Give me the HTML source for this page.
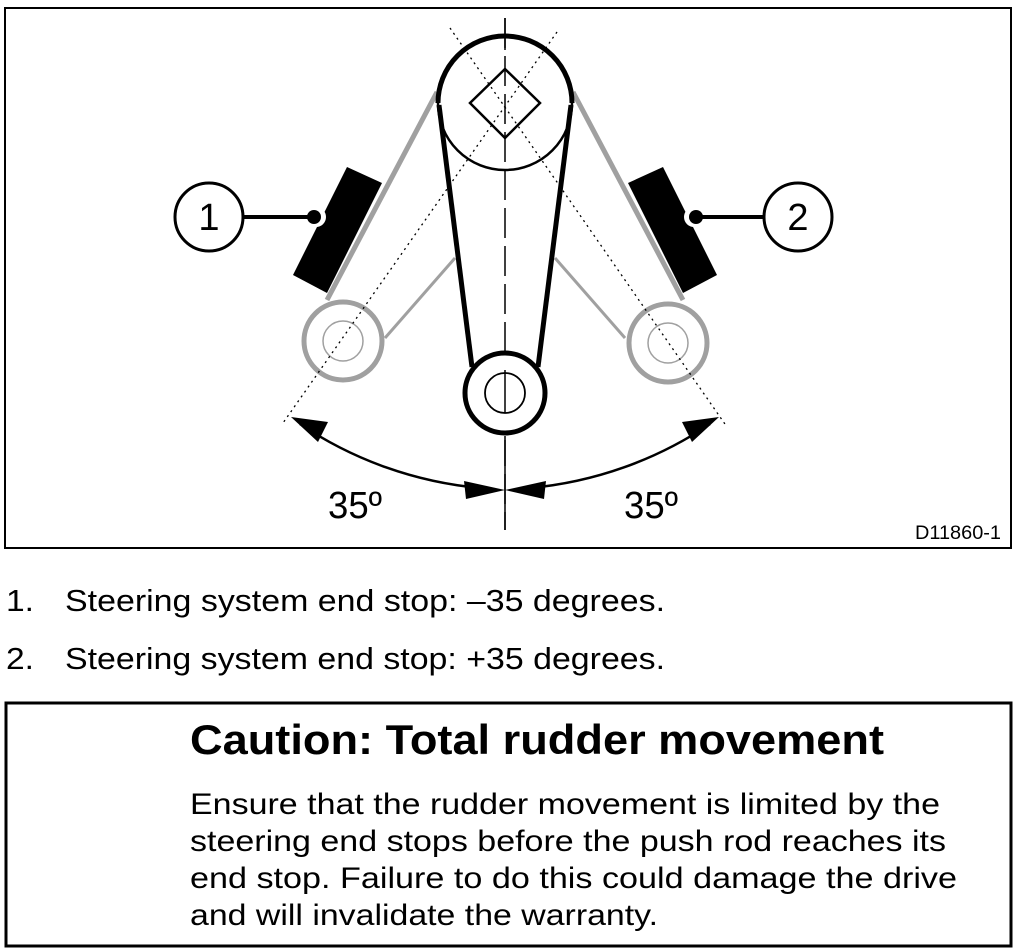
<!DOCTYPE html>
<html><head><meta charset="utf-8"><style>
html,body{margin:0;padding:0;background:#fff;}
svg{display:block;}
text{font-family:"Liberation Sans",Arial,sans-serif;fill:#000;}
</style></head><body>
<svg width="1017" height="951" viewBox="0 0 1017 951" xmlns="http://www.w3.org/2000/svg">
<rect x="5" y="8" width="1006" height="540" fill="none" stroke="#000" stroke-width="2"/>
<!-- gray arms -->
<line x1="437" y1="92" x2="327" y2="300" stroke="#a0a0a0" stroke-width="5"/>
<line x1="573" y1="92" x2="683" y2="300" stroke="#a0a0a0" stroke-width="5"/>
<line x1="455" y1="258" x2="385" y2="338" stroke="#a0a0a0" stroke-width="3"/>
<line x1="555" y1="258" x2="625" y2="338" stroke="#a0a0a0" stroke-width="3"/>
<circle cx="343" cy="341" r="39" fill="none" stroke="#a0a0a0" stroke-width="5"/>
<circle cx="343" cy="341" r="20" fill="none" stroke="#a0a0a0" stroke-width="1.5"/>
<circle cx="668" cy="343" r="39" fill="none" stroke="#a0a0a0" stroke-width="5"/>
<circle cx="668" cy="343" r="20" fill="none" stroke="#a0a0a0" stroke-width="1.5"/>
<!-- blocks -->
<polygon points="347,167 382,183 327,293 293,275" fill="#000"/>
<circle cx="316" cy="217" r="10" fill="#fff"/>
<polygon points="663,167 628,183 683,293 717,275" fill="#000"/>
<circle cx="694" cy="217" r="10" fill="#fff"/>
<!-- leaders -->
<circle cx="209" cy="217" r="34" fill="#fff" stroke="#000" stroke-width="3"/>
<text x="209" y="230" font-size="38" text-anchor="middle">1</text>
<line x1="243" y1="217" x2="313" y2="217" stroke="#000" stroke-width="4"/>
<circle cx="314" cy="217" r="7" fill="#000"/>
<circle cx="798" cy="217" r="34" fill="#fff" stroke="#000" stroke-width="3"/>
<text x="798" y="230" font-size="38" text-anchor="middle">2</text>
<line x1="697" y1="217" x2="764" y2="217" stroke="#000" stroke-width="4"/>
<circle cx="696" cy="217" r="7" fill="#000"/>
<!-- main arm -->
<polygon points="438,105 472,367 538,367 572,105" fill="#fff" stroke="none"/>
<circle cx="505" cy="103" r="67" fill="#fff" stroke="#000" stroke-width="2.5"/>
<!-- dotted lines on top -->
<line x1="557" y1="32" x2="283" y2="423" stroke="#000" stroke-width="1.3" stroke-dasharray="2,4"/>
<line x1="450" y1="28" x2="727" y2="427" stroke="#000" stroke-width="1.3" stroke-dasharray="2,4"/>
<path d="M438,103 A67,67 0 0 1 572,103" fill="none" stroke="#000" stroke-width="5"/>
<line x1="439" y1="105" x2="472" y2="367" stroke="#000" stroke-width="5"/>
<line x1="571" y1="105" x2="538" y2="367" stroke="#000" stroke-width="5"/>
<line x1="505" y1="18" x2="505" y2="530" stroke="#000" stroke-width="1.5" stroke-dasharray="30,8"/>
<line x1="505" y1="18" x2="505" y2="50" stroke="#000" stroke-width="1.5"/>
<line x1="505" y1="440" x2="505" y2="530" stroke="#000" stroke-width="1.5"/>
<polygon points="505,69 540,103 505,138 470,103" fill="none" stroke="#000" stroke-width="2.5"/>
<circle cx="505" cy="393" r="40" fill="#fff" stroke="#000" stroke-width="5"/>
<circle cx="505" cy="393" r="20" fill="none" stroke="#000" stroke-width="1.8"/>
<line x1="505" y1="370" x2="505" y2="413" stroke="#000" stroke-width="1.5"/>
<!-- arcs -->
<path d="M300,424 A385,385 0 0 0 480,488" fill="none" stroke="#000" stroke-width="2.5"/>
<path d="M710,424 A385,385 0 0 1 530,488" fill="none" stroke="#000" stroke-width="2.5"/>
<polygon points="291,417 328,422 318,442" fill="#000"/>
<polygon points="719,417 682,422 692,442" fill="#000"/>
<polygon points="505,490 464,481 466,499" fill="#000"/>
<polygon points="505,490 546,481 544,499" fill="#000"/>
<text x="328" y="518" font-size="38" textLength="54" lengthAdjust="spacingAndGlyphs">35º</text>
<text x="624" y="518" font-size="38" textLength="54" lengthAdjust="spacingAndGlyphs">35º</text>
<text x="915" y="539" font-size="19" textLength="86" lengthAdjust="spacingAndGlyphs">D11860-1</text>
<!-- list -->
<text x="6" y="611" font-size="31" textLength="28" lengthAdjust="spacingAndGlyphs">1.</text>
<text x="65" y="611" font-size="31" textLength="600" lengthAdjust="spacingAndGlyphs">Steering system end stop: –35 degrees.</text>
<text x="6" y="669" font-size="31" textLength="28" lengthAdjust="spacingAndGlyphs">2.</text>
<text x="65" y="669" font-size="31" textLength="600" lengthAdjust="spacingAndGlyphs">Steering system end stop: +35 degrees.</text>
<!-- caution -->
<rect x="6" y="703" width="1005" height="243" fill="none" stroke="#000" stroke-width="3"/>
<text x="190" y="754" font-size="42" font-weight="bold" textLength="694" lengthAdjust="spacingAndGlyphs">Caution: Total rudder movement</text>
<text x="190" y="814" font-size="30" textLength="750" lengthAdjust="spacingAndGlyphs">Ensure that the rudder movement is limited by the</text>
<text x="190" y="851" font-size="30" textLength="756" lengthAdjust="spacingAndGlyphs">steering end stops before the push rod reaches its</text>
<text x="190" y="888" font-size="30" textLength="767" lengthAdjust="spacingAndGlyphs">end stop. Failure to do this could damage the drive</text>
<text x="190" y="925" font-size="30" textLength="468" lengthAdjust="spacingAndGlyphs">and will invalidate the warranty.</text>
</svg>
</body></html>
